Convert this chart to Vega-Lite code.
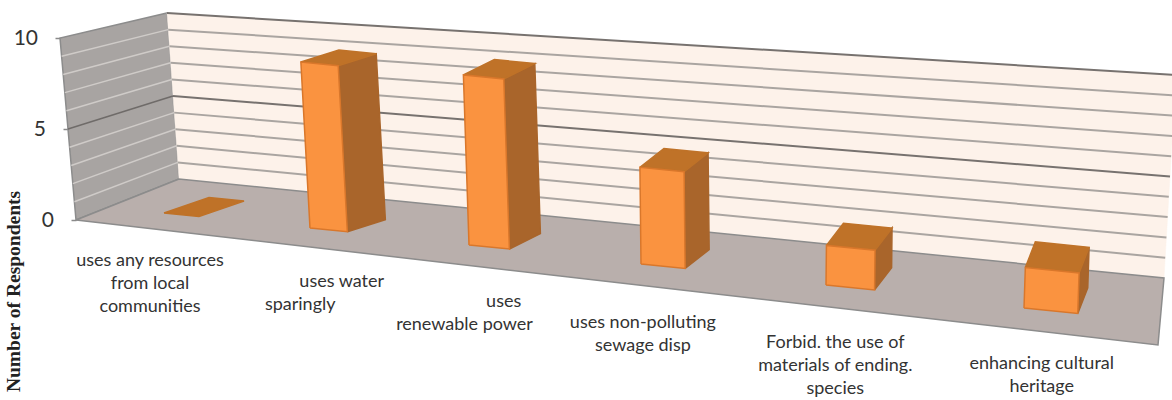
{
"$schema":"https://vega.github.io/schema/vega-lite/v6.json",
"width":1172,"height":400,"autosize":{"type":"none"},"padding":0,"background":"white",
"config":{"view":{"stroke":null}},
"datasets":{
"bars":[
{"category":"uses any resources from local communities","label":"uses any resources\nfrom local\ncommunities","value":0,"order":0},
{"category":"uses water sparingly","label":"\u200b\u00a0\u00a0\u00a0\u00a0\u00a0\u00a0\u00a0\u00a0\u00a0\u00a0\u00a0\u00a0\u00a0\u00a0\u00a0\u00a0\u00a0\u00a0uses water\nsparingly","value":9,"order":1},
{"category":"uses renewable power","label":"\u200b\u00a0\u00a0\u00a0\u00a0\u00a0\u00a0\u00a0\u00a0\u00a0\u00a0\u00a0\u00a0\u00a0\u00a0\u00a0\u00a0\u00a0uses\nrenewable power","value":9,"order":2},
{"category":"uses non-polluting sewage disp","label":"uses non-polluting\nsewage disp","value":5,"order":3},
{"category":"Forbid. the use of materials of ending. species","label":"Forbid. the use of\nmaterials of ending.\nspecies","value":2,"order":4},
{"category":"enhancing cultural heritage","label":"enhancing cultural\nheritage","value":2,"order":5}
],
"levels":[{"level":0},{"level":1},{"level":2},{"level":3},{"level":4},{"level":5},{"level":6},{"level":7},{"level":8},{"level":9},{"level":10}],
"planes":[{"plane":"left"},{"plane":"back"},{"plane":"floor"}]
},
"encoding":{
"x":{"field":"xv","type":"quantitative","scale":{"domain":[0,1172],"nice":false,"zero":false},"axis":null},
"y":{"field":"yv","type":"quantitative","scale":{"domain":[-9.89,12.09],"nice":false,"zero":false},
"axis":{"orient":"left","offset":-76,"values":[0,5,10],"grid":false,"domain":false,"tickColor":"#8a8a8a","tickWidth":1.5,
"tickSize":{"expr":"5+datum.value*1.6"},"labelPadding":17.5,"labelFont":"Lato","labelFontSize":21,"labelColor":"#333333",
"title":"Number of Respondents","titleFont":"Liberation Serif","titleFontWeight":"bold","titleFontSize":19.5,"titleColor":"#222222","titleX":-53,"titleY":291}}
},
"layer":[
{"data":{"name":"planes"},
"transform":[
{"calculate":"[0,1,2,3,4]","as":"v"},{"flatten":["v"]},
{"calculate":"datum.v%4","as":"c"},
{"calculate":"datum.c==1||datum.c==2?1:0","as":"s"},
{"calculate":"datum.c>=2?10:0","as":"L"},
{"calculate":"datum.plane=='floor'?[76,179,1164,1158][datum.c]:datum.plane=='back'?(datum.s?1164+1.2*datum.L:179-1.2*datum.L):(datum.s?179-1.2*datum.L:76-1.6*datum.L)","as":"xv"},
{"calculate":"datum.plane=='floor'?[220,179,278,345][datum.c]:datum.plane=='back'?(datum.s?278-20.3*datum.L:179-16.6*datum.L):(datum.s?179-16.6*datum.L:220-18.2*datum.L)","as":"py"},
{"calculate":"(220-datum.py)/18.2","as":"yv"}
],
"layer":[
{"transform":[{"filter":"datum.plane=='left'"}],"mark":{"type":"line","fill":"#A8A4A2","stroke":"#8c8c8c","strokeWidth":1.5},"encoding":{"order":{"field":"v"}}},
{"transform":[{"filter":"datum.plane=='back'"}],"mark":{"type":"line","fill":"#FDF2EA","stroke":"#FDF2EA","strokeWidth":0.5},"encoding":{"order":{"field":"v"}}},
{"transform":[{"filter":"datum.plane=='floor'"}],"mark":{"type":"line","fill":"#B9AFAC","stroke":"#8c8c8c","strokeWidth":1.5},"encoding":{"order":{"field":"v"}}}
]},
{"data":{"name":"levels"},
"transform":[
{"calculate":"[0,1]","as":"s"},{"flatten":["s"]},
{"calculate":"datum.s?1164+1.2*datum.level:179-1.2*datum.level","as":"xv"},
{"calculate":"(220-(datum.s?278-20.3*datum.level:179-16.6*datum.level))/18.2","as":"yv"},
{"calculate":"datum.s?179-1.2*datum.level:76-1.6*datum.level","as":"xl"},
{"calculate":"(220-(datum.s?179-16.6*datum.level:220-18.2*datum.level))/18.2","as":"yl"}
],
"layer":[
{"transform":[{"filter":"datum.level>0"}],
"mark":{"type":"line","strokeWidth":2},
"encoding":{"detail":{"field":"level"},"order":{"field":"s"},"color":{"condition":{"test":"datum.level==5||datum.level==10","value":"#77726f"},"value":"#aaa5a1"}}},
{"transform":[{"filter":"datum.level>0&&datum.level<10"}],
"mark":{"type":"line","strokeWidth":1.5},
"encoding":{"x":{"field":"xl","type":"quantitative"},"y":{"field":"yl","type":"quantitative"},"detail":{"field":"level"},"order":{"field":"s"},"color":{"condition":{"test":"datum.level==5","value":"#6f6b69"},"value":"#CFCBC8"}}}
]},
{"data":{"name":"bars"},
"transform":[
{"calculate":"datum.order","as":"i"},
{"calculate":"310+159*(datum.i-1)+6.5*(datum.i-1)*(datum.i-2)","as":"xf"},
{"calculate":"228+17*(datum.i-1)+(datum.i-1)*(datum.i-2)","as":"yf"},
{"calculate":"35+2*datum.i+0.35*datum.i*datum.i","as":"w"},
{"calculate":"datum.value*(18+0.45*datum.i)","as":"h"},
{"calculate":"-0.055+0.022*(datum.i-1)","as":"lean"},
{"calculate":"38-7*(datum.i-1)","as":"ddx"},
{"calculate":"-12-3.4*abs(datum.i-1)","as":"ddy"},
{"calculate":"[0,1,2,3,4]","as":"v"},{"flatten":["v"]},
{"calculate":"datum.v%4","as":"c"}
],
"layer":[
{"transform":[
{"filter":"datum.value>0"},
{"calculate":"1","as":"u"},{"calculate":"datum.c==1||datum.c==2?1:0","as":"d"},{"calculate":"datum.c>=2?1:0","as":"t"},
{"calculate":"datum.xf+datum.u*datum.w+datum.d*datum.ddx+datum.t*datum.h*datum.lean","as":"xv"},
{"calculate":"(220-(datum.yf+datum.u*0.1*datum.w+datum.d*datum.ddy-datum.t*datum.h))/18.2","as":"yv"}],
"mark":{"type":"line","fill":"#A9652B","stroke":"#A9652B","strokeWidth":1.5},
"encoding":{"detail":{"field":"order"},"order":{"field":"v"}}},
{"transform":[
{"calculate":"datum.c==1||datum.c==2?1:0","as":"u"},{"calculate":"datum.c>=2?1:0","as":"d"},{"calculate":"1","as":"t"},
{"calculate":"datum.xf+datum.u*datum.w+datum.d*datum.ddx+datum.t*datum.h*datum.lean","as":"xv"},
{"calculate":"(220-(datum.yf+datum.u*0.1*datum.w+datum.d*datum.ddy-datum.t*datum.h))/18.2","as":"yv"}],
"mark":{"type":"line","fill":"#BF7228","stroke":"#BF7228","strokeWidth":1.5},
"encoding":{"detail":{"field":"order"},"order":{"field":"v"}}},
{"transform":[
{"filter":"datum.value>0"},
{"calculate":"datum.c==1||datum.c==2?1:0","as":"u"},{"calculate":"0","as":"d"},{"calculate":"datum.c>=2?1:0","as":"t"},
{"calculate":"datum.xf+datum.u*datum.w+datum.d*datum.ddx+datum.t*datum.h*datum.lean","as":"xv"},
{"calculate":"(220-(datum.yf+datum.u*0.1*datum.w+datum.d*datum.ddy-datum.t*datum.h))/18.2","as":"yv"}],
"mark":{"type":"line","fill":"#FA9340","stroke":"#D9772B","strokeWidth":1.5},
"encoding":{"detail":{"field":"order"},"order":{"field":"v"}}}
]},
{"data":{"name":"bars"},
"transform":[
{"calculate":"150+143.2*datum.order+7.03*datum.order*datum.order","as":"xv"},
{"calculate":"(220-(266+20.5*datum.order))/18.2","as":"yv"}
],
"mark":{"type":"text","font":"Lato","fontSize":18,"color":"#333333","align":"center","baseline":"alphabetic","lineBreak":"\n","lineHeight":23},
"encoding":{"text":{"field":"label"}}}
]
}
